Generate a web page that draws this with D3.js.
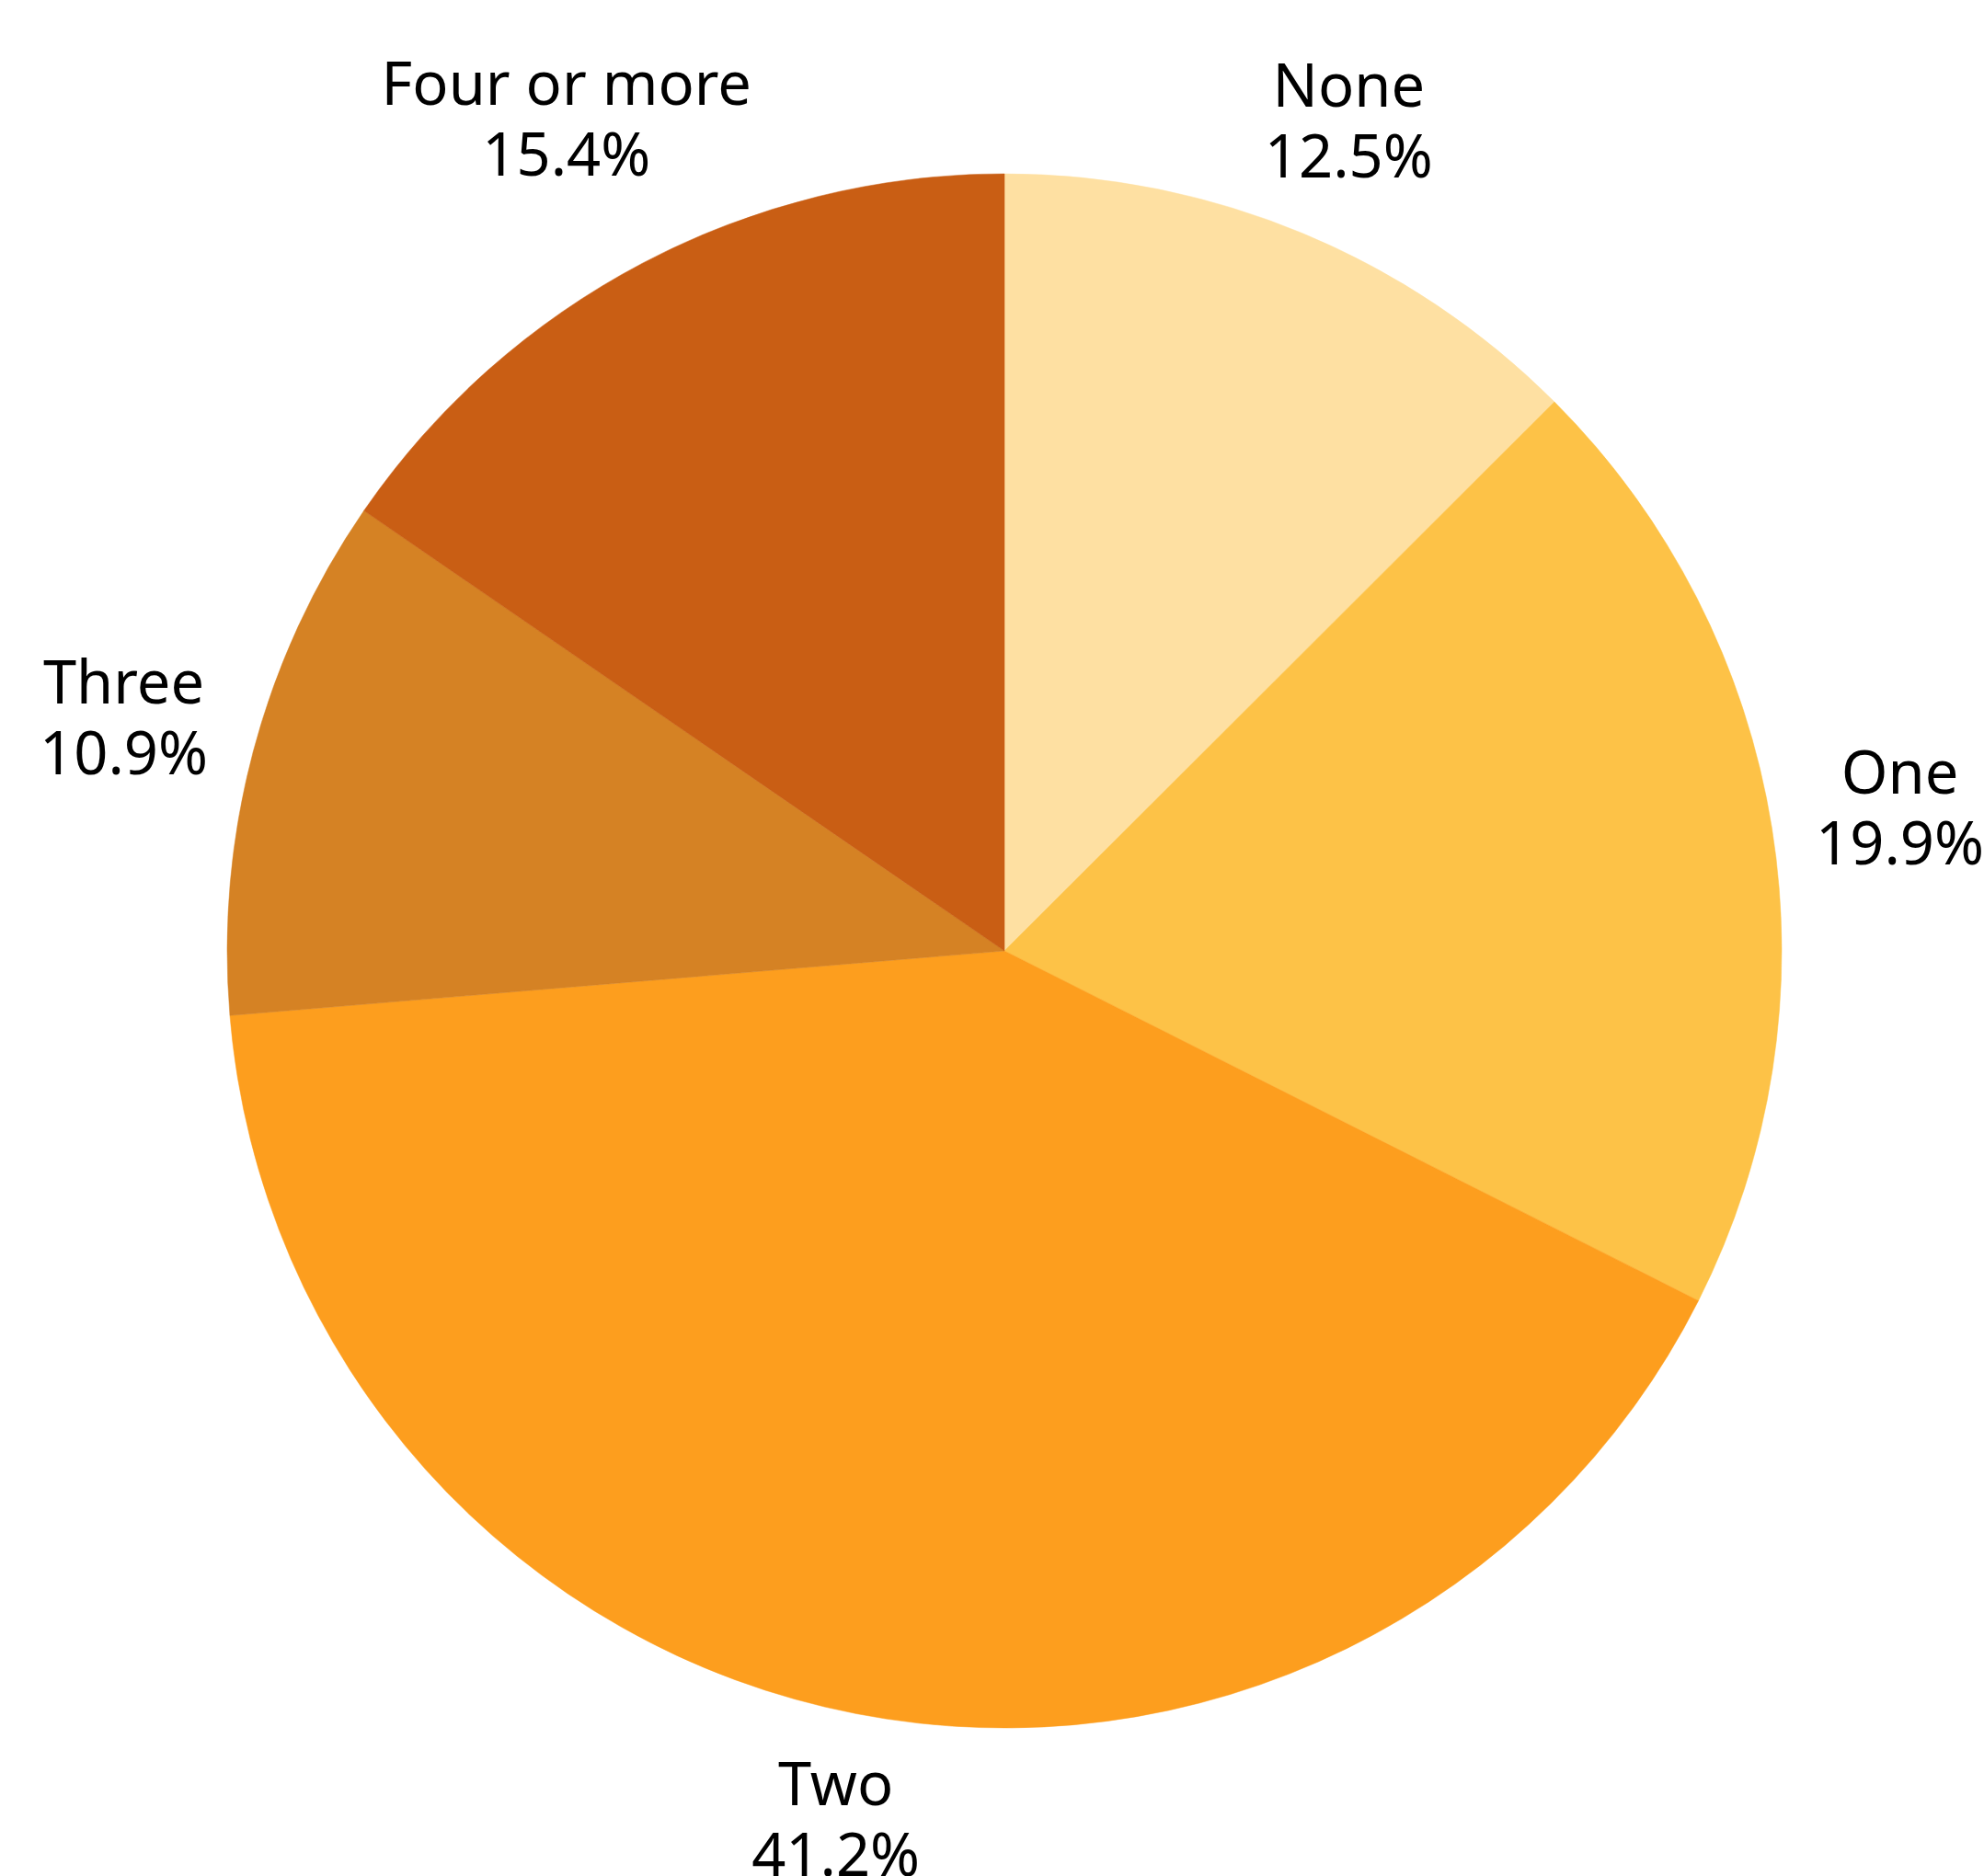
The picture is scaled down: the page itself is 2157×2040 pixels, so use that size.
<!DOCTYPE html>
<html>
<head>
<meta charset="utf-8">
<script src="https://cdn.jsdelivr.net/npm/d3@7"></script>
<style>
  html, body { margin: 0; padding: 0; background: #fff; overflow: hidden; }
  svg text { font-family: "Noto Sans", "Open Sans", sans-serif; fill: #000; }
</style>
</head>
<body>
<div id="chart"></div>
<script>
// slices, clockwise from 12 o'clock
const categories = ["None", "One", "Two", "Three", "Four or more"];
const shares = [12.5, 19.9, 41.2, 10.9, 15.4];
const sliceColors = ["#fee0a2", "#fdc247", "#fd9e1e", "#d58224", "#c95e14"];

const width = 2157;
const height = 2040;
const cx = 1092, cy = 1034;
const radius = 845;
const labelGap = 42;      // distance from the rim to the nearest corner of a label box
const fontSize = 65;
const lineStep = 77;
const capHeight = 47;

const svg = d3.select("#chart").append("svg")
    .attr("width", width)
    .attr("height", height);

const g = svg.append("g").attr("transform", `translate(${cx},${cy})`);

const pie = d3.pie().sort(null).value(d => d.value);
const arcs = pie(categories.map((c, i) => ({ name: c, value: shares[i], color: sliceColors[i] })));

const arc = d3.arc().innerRadius(0).outerRadius(radius);

g.selectAll("path.slice")
    .data(arcs)
    .enter()
    .append("path")
    .attr("class", "slice")
    .attr("d", arc)
    .attr("fill", d => d.data.color)
    .attr("stroke", d => d.data.color)
    .attr("stroke-width", 0.5);

// two-line labels, box = cap top of line 1 to baseline of line 2
const boxH = capHeight + lineStep;
const labels = g.selectAll("text.label")
    .data(arcs)
    .enter()
    .append("text")
    .attr("class", "label")
    .attr("text-anchor", "middle")
    .attr("font-size", fontSize);

labels.append("tspan")
    .attr("x", 0)
    .attr("y", -boxH / 2 + capHeight)
    .text(d => d.data.name);

labels.append("tspan")
    .attr("x", 0)
    .attr("y", boxH / 2)
    .text(d => d3.format(".1f")(d.data.value) + "%");

// push each box out along the slice's mid angle until its nearest corner sits labelGap past the rim
labels.attr("transform", function(d) {
    const w = d3.max(Array.from(this.querySelectorAll("tspan")), t => t.getComputedTextLength());
    const a = (d.startAngle + d.endAngle) / 2;
    const ux = Math.sin(a), uy = -Math.cos(a);
    const sx = Math.sign(ux) * w / 2, sy = Math.sign(uy) * boxH / 2;
    const D = radius + labelGap;
    const us = ux * sx + uy * sy;
    const t = us + Math.sqrt(us * us - (sx * sx + sy * sy) + D * D);
    return `translate(${t * ux},${t * uy})`;
});
</script>
</body>
</html>
